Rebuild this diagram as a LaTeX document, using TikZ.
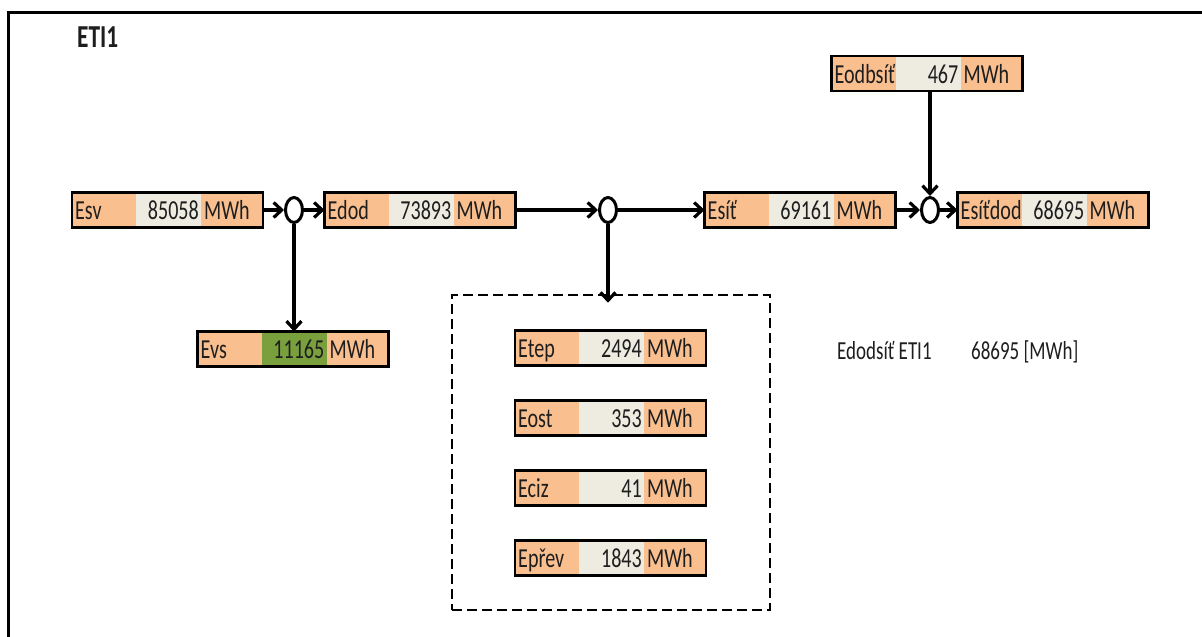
\documentclass[tikz,border=0pt]{standalone}
\usepackage{fontspec}
\setmainfont{Carlito}[FakeStretch=0.73]
\usetikzlibrary{arrows.meta,shapes.geometric}
\definecolor{cellor}{HTML}{FABF8F}
\definecolor{cellgr}{HTML}{EEECE1}
\definecolor{cellgn}{HTML}{7AA03E}
\definecolor{ink}{HTML}{1E1E1E}
\tikzset{
  ebox/.style={draw=black, line width=2.5pt, fill=cellor, minimum width=191pt, minimum height=35pt, inner sep=0pt, outer sep=0pt},
  txt/.style={inner sep=0pt, font=\fontsize{27.5}{29}\selectfont, text=ink},
  junction/.style={draw, line width=3pt, ellipse, minimum width=17pt, minimum height=25pt, fill=white, inner sep=0pt},
  flow/.style={line width=3.6pt, -{Straight Barb[length=8pt,width=15pt,line width=3.2pt]}},
  dashbox/.style={draw, line width=2.6pt, dash pattern=on 10pt off 5pt, minimum width=318pt, minimum height=315pt, inner sep=0pt}
}
\newcommand{\ebx}[5][cellgr]{%
  \node[ebox] (#2) at (#3) {};
  \fill[#1] ([xshift=64pt]#2.south west) rectangle ([xshift=-62pt]#2.north east);
  \draw[line width=2.5pt] (#2.south west) rectangle (#2.north east);
  \node[txt, anchor=base west] (#2-l) at ([xshift=3pt,yshift=-9.5pt]#2.west) {#4};
  \node[txt, anchor=base east] (#2-v) at ([xshift=-64pt,yshift=-9.5pt]#2.east) {#5};
  \node[txt, anchor=base west] (#2-u) at ([xshift=-59pt,yshift=-9.5pt]#2.east) {MWh};
}
\begin{document}
\begin{tikzpicture}[x=1pt,y=-1pt]
\useasboundingbox (0,0) rectangle (1202,637);
\fill[white] (0,0) rectangle (1202,637);
\draw[line width=3pt] (8,640) -- (8,12) -- (1205,12);
\node[inner sep=0pt, anchor=base west, font=\fontsize{32}{34}\selectfont\bfseries, text=ink] (title) at (77,47) {ETI1};

\ebx{esv}{167.5,210}{Esv}{85058}
\ebx{edod}{420,210}{Edod}{73893}
\ebx{esit}{800,210}{Esíť}{69161}
\ebx{esd}{1053,210}{Esíťdod}{68695}
\ebx{eod}{927,73.5}{Eodbsíť}{467}
\ebx[cellgn]{evs}{293,349}{Evs}{11165}

\node[dashbox] (dash) at (611,452.5) {};
\ebx{etep}{610.5,348}{Etep}{2494}
\ebx{eost}{610.5,418}{Eost}{353}
\ebx{eciz}{610.5,488}{Eciz}{41}
\ebx{eprev}{610.5,558}{Epřev}{1843}

\node[junction] (c1) at (294,210) {};
\node[junction] (c2) at (608,210) {};
\node[junction] (c3) at (930,210) {};

\draw[flow] (esv) -- (c1);
\draw[flow] (c1) -- (edod);
\draw[flow] (c1) -- (c1 |- evs.north);
\draw[flow] (edod) -- (c2);
\draw[flow] (c2) -- (esit);
\draw[flow] (c2) -- ([yshift=-9pt]c2 |- dash.north);
\draw[flow] (esit) -- (c3);
\draw[flow] (c3) -- (esd);
\draw[flow] (eod.south -| c3) -- (c3);

\node[txt, font=\fontsize{26}{28}\selectfont, anchor=base west] (sumlab) at (837,359) {Edodsíť ETI1};
\node[txt, font=\fontsize{26}{28}\selectfont, anchor=base west] (sumval) at (971,359) {68695 [MWh]};
\end{tikzpicture}
\end{document}
